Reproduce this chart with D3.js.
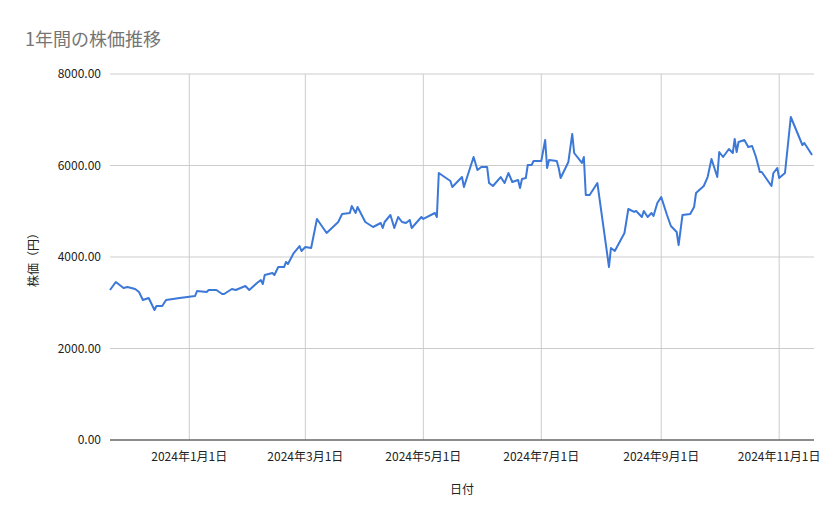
<!DOCTYPE html>
<html><head><meta charset="utf-8">
<script src="https://cdn.jsdelivr.net/npm/d3@7"></script>
<style>body{margin:0;background:#fff}text{font-family:"Noto Sans CJK JP","Roboto",sans-serif}</style>
</head><body><svg id="c" width="839" height="519"></svg>
<script>
const dayOffsets=[-41,-38,-34,-32,-28,-26,-24,-21,-18,-17,-14,-12,-5,3,4,9,10,14,17,18,22,24,29,31,35,37,38,39,43,44,46,49,50,51,54,57,58,60,63,66,71,77,79,83,84,86,87,91,95,99,100,101,104,106,108,110,112,114,115,120,121,127,128,129,135,136,141,142,147,149,151,154,155,157,161,163,165,167,170,171,172,174,175,177,178,182,184,185,186,190,191,192,196,198,199,203,204,205,207,211,214,217,218,220,225,227,230,231,234,235,237,239,240,242,244,247,249,252,253,255,259,261,262,266,268,270,273,274,276,279,281,282,283,284,287,289,291,293,295,296,301,302,304,305,308,311,317,318,322];
const prices=[3279,3454,3322,3344,3300,3235,3060,3104,2841,2929,2929,3060,3104,3148,3257,3235,3279,3279,3191,3191,3300,3279,3366,3279,3432,3497,3410,3607,3650,3607,3781,3781,3891,3847,4087,4240,4131,4219,4197,4831,4525,4765,4940,4962,5115,4962,5093,4765,4656,4743,4634,4765,4918,4634,4874,4765,4743,4809,4634,4874,4831,4962,4874,5836,5661,5530,5748,5530,6186,5902,5967,5967,5617,5552,5748,5617,5836,5639,5683,5508,5705,5727,6011,6011,6098,6098,6557,5945,6120,6098,5945,5727,6077,6689,6273,6055,6186,5355,5355,5617,4699,3781,4197,4131,4525,5049,4984,5006,4874,5006,4874,4962,4896,5180,5311,4918,4678,4546,4262,4918,4940,5093,5399,5552,5748,6142,5748,6295,6186,6361,6273,6579,6295,6514,6557,6404,6426,6186,5858,5858,5552,5836,5945,5727,5836,7060,6448,6492,6230];
const yTicks=[0,2000,4000,6000,8000];
const xTickDates=["2024-01-01","2024-03-01","2024-05-01","2024-07-01","2024-09-01","2024-11-01"];
const title="1年間の株価推移", xTitle="日付", yTitle="株価（円）";

const data=dayOffsets.map((d,i)=>({date:new Date(2024,0,1+d),v:prices[i]}));
const svg=d3.select("#c");
const L=110,R=814,T=74,B=440;
const x=d3.scaleTime().domain([new Date(2024,0,1-41.4),new Date(2024,0,1+323)]).range([L,R]);
const y=d3.scaleLinear().domain([0,8000]).range([B,T]);
svg.append("text").attr("x",25).attr("y",46).attr("fill","#757575").attr("font-size",18).text(title);
const g=svg.append("g");
g.selectAll(".hy").data(yTicks).join("line").attr("x1",L).attr("x2",R).attr("y1",d=>y(d)).attr("y2",d=>y(d)).attr("stroke","#ccc");
const xt=xTickDates.map(s=>{const [a,b,c]=s.split("-").map(Number);return new Date(a,b-1,c);});
g.selectAll(".vx").data(xt).join("line").attr("x1",d=>x(d)).attr("x2",d=>x(d)).attr("y1",T).attr("y2",B).attr("stroke","#ccc");
g.append("line").attr("x1",L).attr("x2",R).attr("y1",B).attr("y2",B).attr("stroke","#333");
g.selectAll(".yl").data(yTicks).join("text").attr("x",101).attr("y",d=>y(d)+4).attr("text-anchor","end").attr("font-size",12).attr("fill","#222").text(d=>d3.format(".2f")(d));
g.selectAll(".xl").data(xt).join("text").attr("x",d=>x(d)).attr("y",461).attr("text-anchor","middle").attr("font-size",12).attr("fill","#222").text(d=>`${d.getFullYear()}年${d.getMonth()+1}月${d.getDate()}日`);
svg.append("text").attr("x",462).attr("y",494).attr("text-anchor","middle").attr("font-size",12).attr("fill","#222").text(xTitle);
svg.append("text").attr("transform","translate(38,257) rotate(-90)").attr("text-anchor","middle").attr("font-size",12).attr("fill","#222").text(yTitle);
svg.append("path").datum(data).attr("fill","none").attr("stroke","#3c78d8").attr("stroke-width",2).attr("stroke-linejoin","round")
 .attr("d",d3.line().x(d=>x(d.date)).y(d=>y(d.v)));
</script></body></html>
